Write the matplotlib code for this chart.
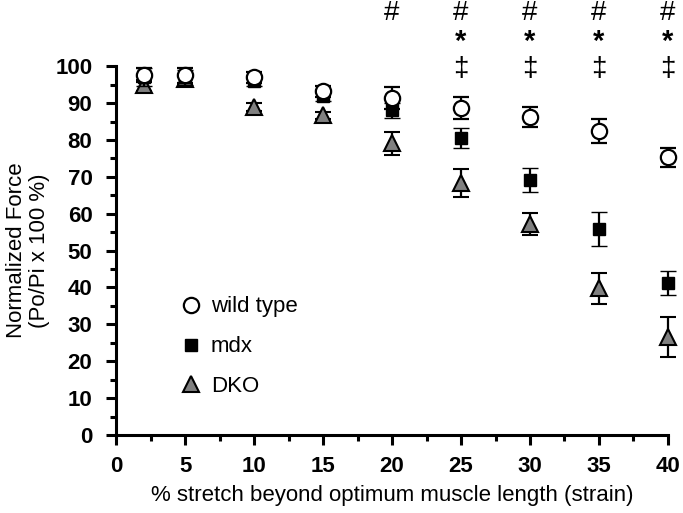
import numpy as np
import matplotlib.pyplot as plt
from matplotlib.ticker import MultipleLocator

plt.rcParams['font.family'] = ['Liberation Sans', 'DejaVu Sans']

strain = [2, 5, 10, 15, 20, 25, 30, 35, 40]
wt = [97.6, 97.5, 97.0, 93.2, 91.3, 88.6, 86.2, 82.4, 75.3]
wt_err = [2.0, 2.0, 1.5, 1.5, 3.0, 3.0, 2.8, 3.3, 2.6]
mdx = [97.0, 97.0, 96.0, 92.0, 88.0, 80.5, 69.1, 55.8, 41.2]
mdx_err = [2.5, 2.0, 1.5, 1.5, 2.0, 2.7, 3.3, 4.6, 3.2]
dko = [94.8, 96.5, 88.9, 86.7, 79.1, 68.3, 57.2, 39.8, 26.6]
dko_err = [1.5, 1.5, 1.0, 1.0, 3.1, 3.7, 3.0, 4.2, 5.4]

hash_x = [20, 25, 30, 35, 40]
star_x = [25, 30, 35, 40]
dagger_x = [25, 30, 35, 40]

fig = plt.figure(figsize=(6.83, 5.13), dpi=100)
ax = fig.add_axes([0.170, 0.152, 0.808, 0.719])

eb = dict(capsize=6, elinewidth=1.6, capthick=1.6, ecolor='black', linestyle='none', clip_on=False)
ax.errorbar(strain, dko, yerr=dko_err, marker='^', ms=12, mfc='#808080', mec='black', mew=1.5,
            label='DKO', zorder=3, **eb)
ax.errorbar(strain, mdx, yerr=mdx_err, marker='s', ms=8.5, mfc='black', mec='black', mew=1,
            label='mdx', zorder=4, **eb)
ax.errorbar(strain, wt, yerr=wt_err, marker='o', ms=11, mfc='white', mec='black', mew=1.6,
            label='wild type', zorder=5, **eb)

for x in hash_x:
    ax.text(x, 114.5, '#', ha='center', va='center', fontsize=20, clip_on=False)
for x in star_x:
    ax.text(x, 106.5, '*', ha='center', va='center', fontsize=21, fontweight='bold', clip_on=False)
for x in dagger_x:
    ax.text(x, 99.2, '\u2021', ha='center', va='center', fontsize=20, clip_on=False)

ax.set_xlim(0, 40)
ax.set_ylim(0, 100)
ax.xaxis.set_major_locator(MultipleLocator(5))
ax.xaxis.set_minor_locator(MultipleLocator(2.5))
ax.yaxis.set_major_locator(MultipleLocator(10))
ax.yaxis.set_minor_locator(MultipleLocator(5))
for s in ['top', 'right']:
    ax.spines[s].set_visible(False)
for s in ['left', 'bottom']:
    ax.spines[s].set_linewidth(2.2)
ax.tick_params(which='major', direction='out', length=7, width=2.2, labelsize=16, pad=8)
ax.tick_params(axis='y', which='major', pad=10)
ax.tick_params(which='minor', direction='out', length=4, width=2.2)
for lab in ax.get_xticklabels() + ax.get_yticklabels():
    lab.set_fontweight('bold')

ax.set_xlabel('% stretch beyond optimum muscle length (strain)', fontsize=16, labelpad=6)
ax.set_ylabel('Normalized Force\n(Po/Pi x 100 %)', fontsize=16, linespacing=1.1, labelpad=4)

h, l = ax.get_legend_handles_labels()
leg = ax.legend([x[0] for x in h[::-1]], l[::-1], loc='upper left', bbox_to_anchor=(0.075, 0.43),
                frameon=False, fontsize=16, labelspacing=0.85, handletextpad=0.3, handlelength=1.2)

fig.savefig('out.png', dpi=100)
